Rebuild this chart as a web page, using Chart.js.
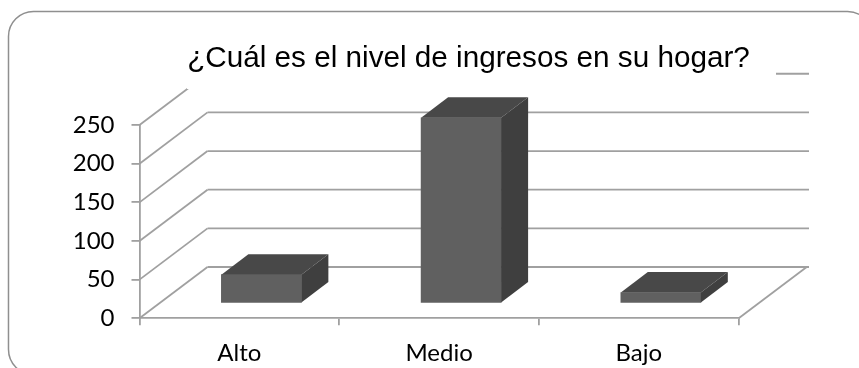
<!DOCTYPE html>
<html>
<head>
<meta charset="utf-8">
<style>
    html, body { margin: 0; padding: 0; background: #fff; overflow: hidden; }
    canvas { display: block; }
</style>
<script src="https://cdn.jsdelivr.net/npm/chart.js@4"></script>
</head>
<body>
<canvas id="ingresosChart" width="859" height="368"></canvas>
<script>
const categories = ['Alto', 'Medio', 'Bajo'];
const hogares = [37, 240, 14];
const yTicks = [0, 50, 100, 150, 200, 250];
const chartTitle = '¿Cuál es el nivel de ingresos en su hogar?';

const LINE_COLOR = '#a0a0a0';
// fake 3D: how far the back wall sits from the front axes
const WALL_DX = 68;
const WALL_DY = -51.3;
// bars stand in the middle of the floor
const BAR_DX = 22;
const BAR_DY = -15;
const BAR_DEPTH_X = 27;
const BAR_DEPTH_Y = -20.5;

function drawLine(ctx, x1, y1, x2, y2) {
    ctx.beginPath();
    ctx.moveTo(x1, y1);
    ctx.lineTo(x2, y2);
    ctx.stroke();
}

function fillPoly(ctx, color, pts) {
    ctx.fillStyle = color;
    ctx.beginPath();
    pts.forEach((p, i) => i ? ctx.lineTo(p[0], p[1]) : ctx.moveTo(p[0], p[1]));
    ctx.closePath();
    ctx.fill();
}

const scenePlugin = {
    id: 'scene3d',
    afterLayout(chart) {
        // title is not centred on the plot in the original
        chart.titleBlock.left = 0;
        chart.titleBlock.right = 937;
    },
    beforeDraw(chart) {
        const ctx = chart.ctx;
        const x = chart.scales.x;
        const y = chart.scales.y;

        // rounded frame, runs off the right and bottom of the picture
        ctx.save();
        ctx.strokeStyle = '#8f8f8f';
        ctx.lineWidth = 1.5;
        ctx.beginPath();
        ctx.roundRect(8.5, 11.5, 864, 363, 25);
        ctx.stroke();

        ctx.strokeStyle = LINE_COLOR;
        ctx.lineWidth = 1.8;
        yTicks.forEach(v => {
            const py = y.getPixelForValue(v);
            drawLine(ctx, x.left, py, x.left + WALL_DX, py + WALL_DY);
            drawLine(ctx, x.left + WALL_DX, py + WALL_DY, 809, py + WALL_DY);
        });
        const floorY = y.getPixelForValue(0);
        drawLine(ctx, x.right, floorY, x.right + WALL_DX, floorY + WALL_DY);

        // white box of the title hides the top of the wall
        ctx.fillStyle = '#fff';
        ctx.fillRect(187, 40, 589, 49);
        ctx.restore();
    },
    beforeDatasetsDraw(chart) {
        chart.ctx.save();
        chart.ctx.translate(BAR_DX, BAR_DY);
    },
    afterDatasetsDraw(chart) {
        const ctx = chart.ctx;
        chart.getDatasetMeta(0).data.forEach(bar => {
            const l = bar.x - bar.width / 2;
            const r = bar.x + bar.width / 2;
            fillPoly(ctx, '#484848', [[l, bar.y], [r, bar.y], [r + BAR_DEPTH_X, bar.y + BAR_DEPTH_Y], [l + BAR_DEPTH_X, bar.y + BAR_DEPTH_Y]]);
            fillPoly(ctx, '#3f3f3f', [[r, bar.y], [r + BAR_DEPTH_X, bar.y + BAR_DEPTH_Y], [r + BAR_DEPTH_X, bar.base + BAR_DEPTH_Y], [r, bar.base]]);
        });
        ctx.restore();
    }
};

new Chart(document.getElementById('ingresosChart'), {
    type: 'bar',
    data: {
        labels: categories,
        datasets: [{
            label: 'Hogares',
            data: hogares,
            backgroundColor: '#606060',
            borderWidth: 0,
            barThickness: 80,
            clip: false
        }]
    },
    options: {
        responsive: false,
        animation: false,
        layout: { padding: { right: 120.3 } },
        plugins: {
            legend: { display: false },
            tooltip: { enabled: false },
            title: {
                display: true,
                text: chartTitle,
                color: '#000',
                font: { family: '"Liberation Sans"', size: 29.7, weight: 'normal', lineHeight: 1.2 },
                padding: { top: 40.7, bottom: 48.7 }
            }
        },
        scales: {
            x: {
                afterFit(scale) { scale.height = 49.7; },
                border: { color: LINE_COLOR, width: 1.8 },
                grid: { offset: true, drawOnChartArea: false, color: LINE_COLOR, lineWidth: 1.8, tickLength: 7 },
                ticks: { color: '#000', padding: 13.5, maxRotation: 0, font: { family: 'Lato', size: 24 } }
            },
            y: {
                min: 0,
                max: 250,
                afterFit(scale) { scale.width = 139.5; },
                afterBuildTicks(scale) { scale.ticks = yTicks.map(v => ({ value: v })); },
                border: { color: LINE_COLOR, width: 1.8 },
                grid: { drawOnChartArea: false, color: LINE_COLOR, lineWidth: 1.8, tickLength: 8 },
                ticks: { color: '#000', padding: 17, font: { family: 'Lato', size: 24 } }
            }
        }
    },
    plugins: [scenePlugin]
});
</script>
</body>
</html>
